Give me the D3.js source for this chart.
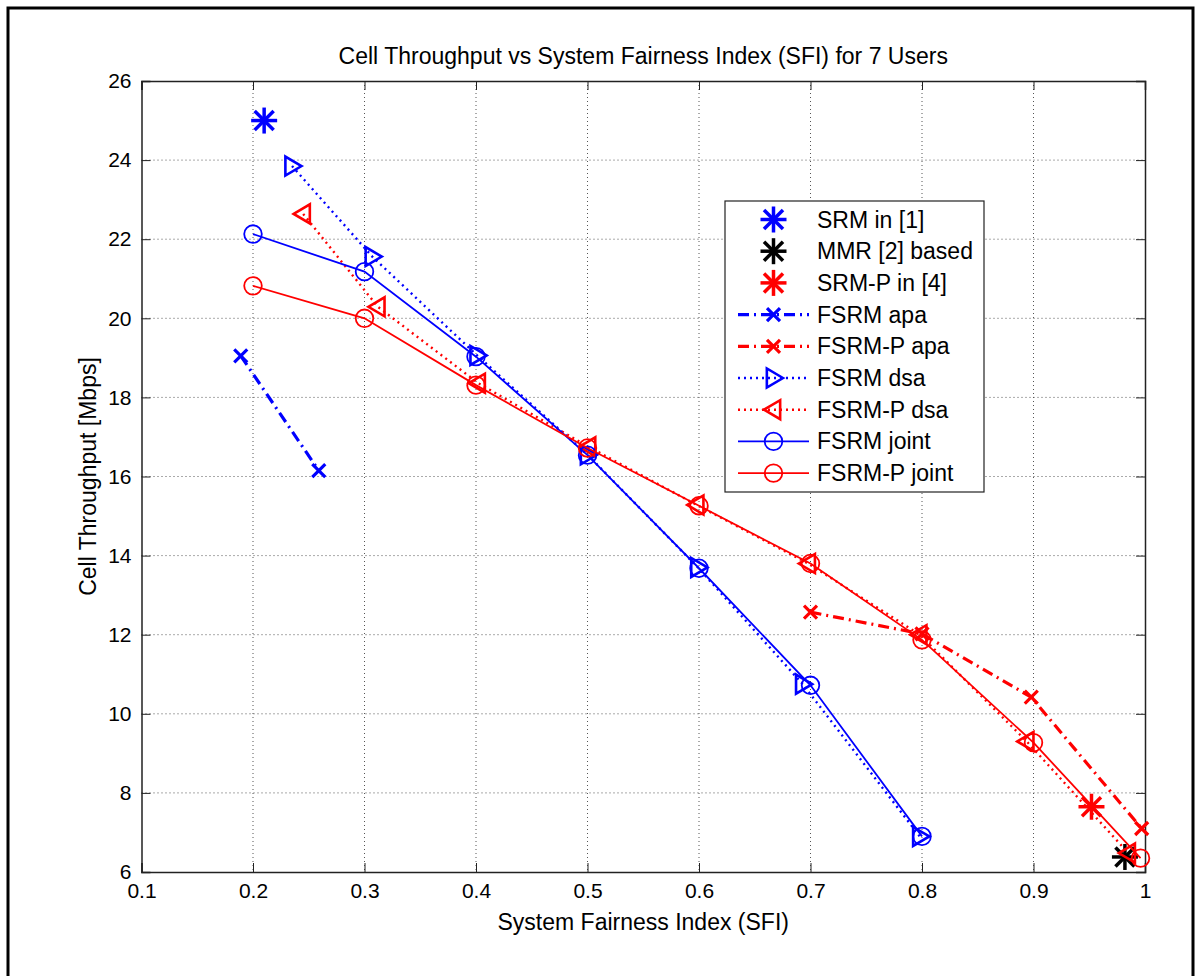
<!DOCTYPE html>
<html>
<head>
<meta charset="utf-8">
<script src="https://cdn.jsdelivr.net/npm/d3@7"></script>
<style>
  body { margin: 0; background: #fff; }
  text { font-family: "Liberation Sans", Arial, sans-serif; fill: #000; }
</style>
</head>
<body>
<div id="chart"></div>
<script>
// ticks
const xTicks = [0.1, 0.2, 0.3, 0.4, 0.5, 0.6, 0.7, 0.8, 0.9, 1];
const yTicks = [6, 8, 10, 12, 14, 16, 18, 20, 22, 24, 26];

// single-point results
const srmX = [0.21], srmY = [25.0];
const mmrX = [0.982], mmrY = [6.38];
const srmpX = [0.952], srmpY = [7.65];

// curves
const fsrmApaX = [0.189, 0.259];
const fsrmApaY = [19.05, 16.15];
const fsrmpApaX = [0.7, 0.8, 0.898, 0.997];
const fsrmpApaY = [12.57, 12.02, 10.42, 7.1];
const fsrmDsaX = [0.235, 0.307, 0.401, 0.5, 0.599, 0.693, 0.798];
const fsrmDsaY = [23.85, 21.56, 19.06, 16.55, 13.7, 10.75, 6.9];
const fsrmpDsaX = [0.245, 0.312, 0.402, 0.501, 0.598, 0.698, 0.798, 0.894, 0.985];
const fsrmpDsaY = [22.64, 20.29, 18.36, 16.75, 15.28, 13.8, 12.0, 9.3, 6.48];
const fsrmJointX = [0.2, 0.3, 0.4, 0.5, 0.6, 0.7, 0.8];
const fsrmJointY = [22.13, 21.18, 19.03, 16.54, 13.68, 10.72, 6.9];
const fsrmpJointX = [0.2, 0.3, 0.4, 0.5, 0.6, 0.7, 0.8, 0.9, 0.996];
const fsrmpJointY = [20.82, 20.0, 18.31, 16.72, 15.26, 13.8, 11.87, 9.27, 6.35];

const W = 1201, H = 976;
let m = { left: 141.5, right: 56, top: 81, bottom: 104 };
let width = W - m.left - m.right,
    height = H - m.top - m.bottom;

let svg = d3.select("#chart").append("svg")
    .attr("width", W)
    .attr("height", H);

// figure frame
svg.append("path")
    .attr("d", "M8,976 L8,8 L1193,8 L1193,976")
    .attr("fill", "none")
    .attr("stroke", "#000")
    .attr("stroke-width", 3);

let vis = svg.append("g")
    .attr("transform", "translate(" + m.left + "," + m.top + ")");

let x = d3.scaleLinear().domain([0.1, 1]).range([0, width]);
let y = d3.scaleLinear().domain([6, 26]).range([height, 0]);

// grid
vis.append("g").selectAll("line").data(xTicks.slice(1, -1)).enter().append("line")
    .attr("x1", d => x(d)).attr("x2", d => x(d))
    .attr("y1", 0).attr("y2", height)
    .attr("stroke", "#555").attr("stroke-width", 1).attr("stroke-dasharray", "1,3");
vis.append("g").selectAll("line").data(yTicks.slice(1, -1)).enter().append("line")
    .attr("y1", d => y(d)).attr("y2", d => y(d))
    .attr("x1", 0).attr("x2", width)
    .attr("stroke", "#555").attr("stroke-width", 1).attr("stroke-dasharray", "1,3");

// axes with inner ticks on all sides
const tk = 9;
vis.append("g").attr("transform", "translate(0," + height + ")")
    .call(d3.axisBottom(x).tickValues(xTicks).tickSize(-tk).tickPadding(11).tickFormat(d3.format("~g")));
vis.append("g")
    .call(d3.axisTop(x).tickValues(xTicks).tickSize(-tk).tickFormat(""));
vis.append("g")
    .call(d3.axisLeft(y).tickValues(yTicks).tickSize(-tk).tickPadding(10));
vis.append("g").attr("transform", "translate(" + width + ",0)")
    .call(d3.axisRight(y).tickValues(yTicks).tickSize(-tk).tickFormat(""));
vis.selectAll(".domain").attr("stroke", "#222").attr("stroke-width", 1.5);
vis.selectAll(".tick line").attr("stroke", "#222").attr("stroke-width", 1);
vis.selectAll(".tick text").style("font-size", "21px").style("font-family", "Liberation Sans, Arial, sans-serif");

// markers
function drawMarker(g, kind, cx, cy, color) {
    let s;
    if (kind === "star") {
        s = g.append("g").attr("transform", "translate(" + cx + "," + cy + ")")
            .attr("stroke", color).attr("stroke-width", 3.5).attr("stroke-linecap", "butt");
        const r = 13, d = 9.5;
        s.append("line").attr("x1", 0).attr("y1", -r).attr("x2", 0).attr("y2", r);
        s.append("line").attr("x1", -r).attr("y1", 0).attr("x2", r).attr("y2", 0);
        s.append("line").attr("x1", -d).attr("y1", -d).attr("x2", d).attr("y2", d);
        s.append("line").attr("x1", -d).attr("y1", d).attr("x2", d).attr("y2", -d);
    } else if (kind === "x") {
        const r = 6.5;
        g.append("path").attr("d", "M" + (cx - r) + "," + (cy - r) + "L" + (cx + r) + "," + (cy + r) +
            "M" + (cx - r) + "," + (cy + r) + "L" + (cx + r) + "," + (cy - r))
            .attr("stroke", color).attr("stroke-width", 3.2).attr("fill", "none");
    } else if (kind === "tri-right" || kind === "tri-left") {
        const dir = kind === "tri-right" ? 1 : -1, r = 9.5;
        g.append("path").attr("d", "M" + (cx + dir * r) + "," + cy + "L" + (cx - dir * r * 0.7) + "," + (cy - r) +
            "L" + (cx - dir * r * 0.7) + "," + (cy + r) + "Z")
            .attr("stroke", color).attr("stroke-width", 2.6).attr("fill", "none").attr("stroke-linejoin", "miter");
    } else if (kind === "circle") {
        g.append("circle").attr("cx", cx).attr("cy", cy).attr("r", 8.8)
            .attr("stroke", color).attr("stroke-width", 1.8).attr("fill", "none");
    }
}

const series = [
    { name: "SRM in [1]", xs: srmX, ys: srmY, color: "#0000ff", dash: null, marker: "star", lw: 0 },
    { name: "MMR [2] based", xs: mmrX, ys: mmrY, color: "#000000", dash: null, marker: "star", lw: 0 },
    { name: "SRM-P in [4]", xs: srmpX, ys: srmpY, color: "#ff0000", dash: null, marker: "star", lw: 0 },
    { name: "FSRM apa", xs: fsrmApaX, ys: fsrmApaY, color: "#0000ff", dash: "11,5,2,5", marker: "x", lw: 3.2 },
    { name: "FSRM-P apa", xs: fsrmpApaX, ys: fsrmpApaY, color: "#ff0000", dash: "11,5,2,5", marker: "x", lw: 3.2 },
    { name: "FSRM dsa", xs: fsrmDsaX, ys: fsrmDsaY, color: "#0000ff", dash: "2,4", marker: "tri-right", lw: 2.4 },
    { name: "FSRM-P dsa", xs: fsrmpDsaX, ys: fsrmpDsaY, color: "#ff0000", dash: "2,4", marker: "tri-left", lw: 2.4 },
    { name: "FSRM joint", xs: fsrmJointX, ys: fsrmJointY, color: "#0000ff", dash: null, marker: "circle", lw: 1.8 },
    { name: "FSRM-P joint", xs: fsrmpJointX, ys: fsrmpJointY, color: "#ff0000", dash: null, marker: "circle", lw: 1.8 }
];

let line = d3.line().x(d => x(d[0])).y(d => y(d[1]));

series.forEach((s) => {
    let pts = s.xs.map((v, i) => [v, s.ys[i]]);
    let g = vis.append("g").attr("class", "series");
    if (s.lw > 0 && pts.length > 1) {
        g.append("path").datum(pts)
            .attr("d", line)
            .attr("fill", "none")
            .attr("stroke", s.color)
            .attr("stroke-width", s.lw)
            .attr("stroke-dasharray", s.dash);
    }
    pts.forEach((p) => drawMarker(g, s.marker, x(p[0]), y(p[1]), s.color));
});

// title and axis labels
svg.append("text")
    .attr("x", m.left + width / 2).attr("y", 64)
    .attr("text-anchor", "middle")
    .style("font-size", "23px")
    .text("Cell Throughput vs System Fairness Index (SFI) for 7 Users");

svg.append("text")
    .attr("x", m.left + width / 2).attr("y", 930)
    .attr("text-anchor", "middle")
    .style("font-size", "23px")
    .text("System Fairness Index (SFI)");

svg.append("text")
    .attr("transform", "translate(96," + (m.top + height / 2) + ") rotate(-90)")
    .attr("text-anchor", "middle")
    .style("font-size", "23px")
    .text("Cell Throughput [Mbps]");

// legend
let legend = svg.append("g").attr("transform", "translate(725,201)");
legend.append("rect")
    .attr("x", 0).attr("y", 0).attr("width", 259).attr("height", 291)
    .attr("fill", "#fff").attr("stroke", "#222").attr("stroke-width", 1.2);

series.forEach((s, i) => {
    let ly = 18.5 + i * 31.7;
    let g = legend.append("g");
    if (s.lw > 0) {
        g.append("line")
            .attr("x1", 13).attr("x2", 84).attr("y1", ly).attr("y2", ly)
            .attr("stroke", s.color).attr("stroke-width", s.lw)
            .attr("stroke-dasharray", s.dash);
    }
    drawMarker(g, s.marker, 48.5, ly, s.color);
    g.append("text")
        .attr("x", 92).attr("y", ly + 8)
        .style("font-size", "23px")
        .text(s.name);
});
</script>
</body>
</html>
